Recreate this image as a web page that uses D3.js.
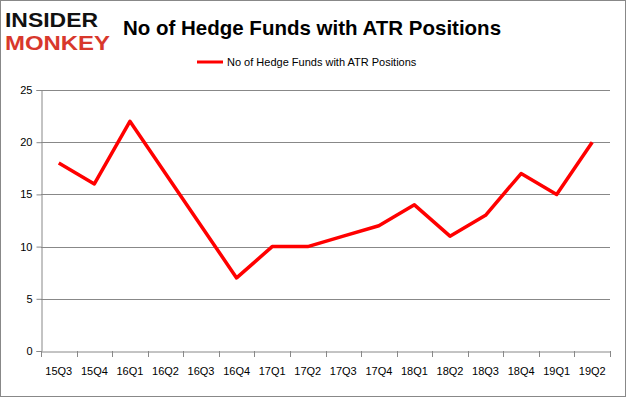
<!DOCTYPE html>
<html>
<head>
<meta charset="utf-8">
<script src="https://cdn.jsdelivr.net/npm/d3@7"></script>
<style>
  body { margin: 0; background: #fff; }
  svg { display: block; }
</style>
</head>
<body>
<svg id="chart" width="626" height="397"></svg>
<script>
var quarters = ["15Q3", "15Q4", "16Q1", "16Q2", "16Q3", "16Q4", "17Q1", "17Q2",
  "17Q3", "17Q4", "18Q1", "18Q2", "18Q3", "18Q4", "19Q1", "19Q2"];
var funds = [18, 16, 22, 17, 12, 7, 10, 10, 11, 12, 14, 11, 13, 17, 15, 20];
var yTicks = [0, 5, 10, 15, 20, 25];
var seriesName = "No of Hedge Funds with ATR Positions";

var svg = d3.select("#chart");
var margin = { top: 90, right: 16, bottom: 46, left: 41 };
var W = 626, H = 397;

// outer frame
svg.append("rect")
  .attr("x", 0.5).attr("y", 0.5)
  .attr("width", W - 1).attr("height", H - 1)
  .style("fill", "#fff").style("stroke", "#888");

// logo
svg.append("text")
  .attr("x", 5).attr("y", 27)
  .attr("textLength", 93).attr("lengthAdjust", "spacingAndGlyphs")
  .style("font-family", "Liberation Sans, Arial, sans-serif")
  .style("font-weight", "bold").style("font-size", "20px")
  .style("fill", "#111")
  .text("INSIDER");
svg.append("text")
  .attr("x", 5).attr("y", 50)
  .attr("textLength", 105).attr("lengthAdjust", "spacingAndGlyphs")
  .style("font-family", "Liberation Sans, Arial, sans-serif")
  .style("font-weight", "bold").style("font-size", "20px")
  .style("fill", "#d8382c")
  .text("MONKEY");

// title
svg.append("text")
  .attr("x", 312).attr("y", 35)
  .attr("text-anchor", "middle")
  .style("font-family", "Liberation Sans, Arial, sans-serif")
  .style("font-weight", "bold").style("font-size", "20.5px")
  .style("fill", "#000")
  .text(seriesName);

// legend
svg.append("line")
  .attr("x1", 197).attr("x2", 223).attr("y1", 62).attr("y2", 62)
  .style("stroke", "#ff0000").style("stroke-width", 3);
svg.append("text")
  .attr("x", 227).attr("y", 66)
  .style("font-family", "Liberation Sans, Arial, sans-serif")
  .style("font-size", "11px").style("fill", "#000")
  .text(seriesName);

var x = d3.scaleBand()
  .domain(quarters)
  .range([margin.left, W - margin.right]);

var y = d3.scaleLinear()
  .domain([0, 25])
  .range([H - margin.bottom, margin.top]);

// gridlines
svg.append("g")
  .selectAll("line")
  .data(yTicks.filter(d => d > 0))
  .enter()
  .append("line")
  .attr("x1", margin.left).attr("x2", W - margin.right)
  .attr("y1", d => Math.round(y(d)) + 0.5).attr("y2", d => Math.round(y(d)) + 0.5)
  .style("stroke", "#888").style("stroke-width", 1);

// y axis
var yAxis = svg.append("g")
  .attr("transform", `translate(${margin.left + 0.5},0)`)
  .call(d3.axisLeft(y).tickValues(yTicks).tickSize(5).tickPadding(4));
yAxis.selectAll("path, line").style("stroke", "#888");
yAxis.selectAll("text")
  .style("font-family", "Liberation Sans, Arial, sans-serif")
  .style("font-size", "11px").style("fill", "#000");

// x axis
var xAxis = svg.append("g")
  .attr("transform", `translate(0,${Math.round(y(0)) + 0.5})`)
  .call(d3.axisBottom(x).tickSize(0).tickPadding(16));
xAxis.select("path").style("stroke", "#888");
xAxis.selectAll("text")
  .style("font-family", "Liberation Sans, Arial, sans-serif")
  .style("font-size", "11px").style("fill", "#000");

// x tick marks at category boundaries
var bounds = quarters.map(d => x(d)).concat([x(quarters[quarters.length - 1]) + x.bandwidth()]);
svg.append("g")
  .selectAll("line")
  .data(bounds)
  .enter()
  .append("line")
  .attr("x1", d => Math.round(d) + 0.5).attr("x2", d => Math.round(d) + 0.5)
  .attr("y1", Math.round(y(0))).attr("y2", Math.round(y(0)) + 6)
  .style("stroke", "#888");

// series line
var line = d3.line()
  .x((d, i) => x(quarters[i]) + x.bandwidth() / 2)
  .y(d => y(d));

svg.append("path")
  .datum(funds)
  .attr("d", line)
  .style("fill", "none")
  .style("stroke", "#ff0000")
  .style("stroke-width", 3.5)
  .style("stroke-linejoin", "round");
</script>
</body>
</html>
